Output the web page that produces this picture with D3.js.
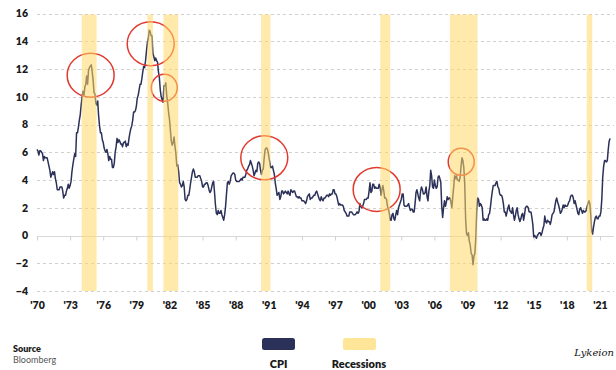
<!DOCTYPE html>
<html>
<head>
<meta charset="utf-8">
<script src="https://cdn.jsdelivr.net/npm/d3@7"></script>
<style>
  html, body { margin: 0; padding: 0; background: #fff; }
  svg { display: block; }
  text { font-family: Lato, "Open Sans", sans-serif; }
</style>
</head>
<body>
<svg id="chart" width="616" height="370"></svg>
<script>
// ---- Data (US CPI YoY %, monthly) ----
const startYear = 1970;
const cpi = [
  // 1970
  6.2, 6.1, 5.8, 6.1, 6.1, 6.0, 5.9, 5.4, 5.7, 5.6, 5.6, 5.6,
  // 1971
  5.3, 5.0, 4.7, 4.2, 4.4, 4.6, 4.4, 4.6, 4.1, 3.8, 3.3, 3.3,
  // 1972
  3.3, 3.5, 3.5, 3.5, 3.2, 2.7, 2.9, 2.9, 3.2, 3.4, 3.7, 3.4,
  // 1973
  3.6, 3.9, 4.6, 5.1, 5.5, 5.9, 5.7, 7.4, 7.4, 7.8, 8.3, 8.7,
  // 1974
  9.4, 10.0, 10.4, 10.1, 10.7, 10.9, 11.5, 10.9, 11.9, 12.1, 12.2, 12.3,
  // 1975
  11.8, 11.2, 10.3, 10.2, 9.5, 9.4, 9.7, 8.6, 7.9, 7.4, 7.4, 6.9,
  // 1976
  6.7, 6.3, 6.1, 6.0, 6.2, 5.9, 5.4, 5.7, 5.5, 5.5, 4.9, 4.9,
  // 1977
  5.2, 6.0, 6.4, 7.0, 6.7, 6.9, 6.8, 6.6, 6.6, 6.4, 6.7, 6.7,
  // 1978
  6.8, 6.4, 6.6, 6.5, 7.0, 7.4, 7.7, 7.9, 8.3, 8.9, 8.9, 9.0,
  // 1979
  9.3, 9.9, 10.1, 10.5, 10.9, 10.9, 11.3, 11.8, 12.2, 12.1, 12.6, 13.3,
  // 1980
  13.9, 14.2, 14.8, 14.7, 14.4, 14.4, 13.1, 12.9, 12.6, 12.8, 12.6, 12.5,
  // 1981
  11.8, 11.4, 10.5, 10.0, 9.8, 9.6, 10.8, 10.8, 11.0, 10.1, 9.6, 8.9,
  // 1982
  8.4, 7.6, 6.8, 6.5, 6.7, 7.1, 6.4, 5.9, 5.0, 5.1, 4.6, 3.8,
  // 1983
  3.7, 3.5, 3.6, 3.9, 3.5, 2.6, 2.5, 2.6, 2.9, 2.9, 3.3, 3.8,
  // 1984
  4.2, 4.6, 4.8, 4.6, 4.2, 4.2, 4.2, 4.3, 4.3, 4.3, 4.1, 3.9,
  // 1985
  3.5, 3.5, 3.7, 3.7, 3.8, 3.8, 3.6, 3.3, 3.1, 3.2, 3.5, 3.8,
  // 1986
  3.9, 3.1, 2.2, 1.6, 1.5, 1.8, 1.6, 1.6, 1.8, 1.5, 1.3, 1.1,
  // 1987
  1.5, 2.1, 3.0, 3.8, 3.9, 3.7, 3.9, 4.3, 4.4, 4.5, 4.5, 4.4,
  // 1988
  4.0, 3.9, 3.9, 3.9, 3.9, 4.0, 4.1, 4.0, 4.2, 4.2, 4.2, 4.4,
  // 1989
  4.7, 4.8, 5.0, 5.1, 5.4, 5.2, 5.0, 4.7, 4.3, 4.5, 4.7, 4.6,
  // 1990
  5.2, 5.3, 5.2, 4.7, 4.4, 4.7, 4.8, 5.6, 6.2, 6.3, 6.3, 6.1,
  // 1991
  5.7, 5.3, 4.9, 4.9, 5.0, 4.7, 4.4, 3.8, 3.4, 2.9, 3.0, 3.1,
  // 1992
  2.6, 2.8, 3.2, 3.2, 3.0, 3.1, 3.2, 3.1, 3.0, 3.2, 3.0, 2.9,
  // 1993
  3.3, 3.2, 3.1, 3.2, 3.2, 3.0, 2.8, 2.8, 2.7, 2.8, 2.7, 2.7,
  // 1994
  2.5, 2.5, 2.5, 2.4, 2.3, 2.5, 2.8, 2.9, 3.0, 2.6, 2.7, 2.7,
  // 1995
  2.8, 2.9, 2.9, 3.1, 3.2, 3.0, 2.8, 2.6, 2.5, 2.8, 2.6, 2.5,
  // 1996
  2.7, 2.7, 2.8, 2.9, 2.9, 2.8, 3.0, 2.9, 3.0, 3.0, 3.3, 3.3,
  // 1997
  3.0, 3.0, 2.8, 2.5, 2.2, 2.3, 2.2, 2.2, 2.2, 2.1, 1.8, 1.7,
  // 1998
  1.6, 1.4, 1.4, 1.4, 1.7, 1.7, 1.7, 1.6, 1.5, 1.5, 1.5, 1.6,
  // 1999
  1.7, 1.6, 1.7, 2.3, 2.1, 2.0, 2.1, 2.3, 2.6, 2.6, 2.6, 2.7,
  // 2000
  2.7, 3.2, 3.8, 3.1, 3.2, 3.7, 3.7, 3.4, 3.5, 3.4, 3.4, 3.4,
  // 2001
  3.7, 3.5, 2.9, 3.3, 3.6, 3.2, 2.7, 2.7, 2.6, 2.1, 1.9, 1.6,
  // 2002
  1.1, 1.1, 1.5, 1.6, 1.2, 1.1, 1.5, 1.8, 1.5, 2.0, 2.2, 2.4,
  // 2003
  2.6, 3.0, 3.0, 2.2, 2.1, 2.1, 2.1, 2.2, 2.3, 2.0, 1.8, 1.9,
  // 2004
  1.9, 1.7, 1.7, 2.3, 3.1, 3.3, 3.0, 2.7, 2.5, 3.2, 3.5, 3.3,
  // 2005
  3.0, 3.0, 3.1, 3.5, 2.8, 2.5, 3.2, 3.6, 4.7, 4.3, 3.5, 3.4,
  // 2006
  4.0, 3.6, 3.4, 3.5, 4.2, 4.3, 4.1, 3.8, 2.1, 1.3, 2.0, 2.5,
  // 2007
  2.1, 2.4, 2.8, 2.6, 2.7, 2.7, 2.4, 2.0, 2.8, 3.5, 4.3, 4.1,
  // 2008
  4.3, 4.0, 4.0, 3.9, 4.2, 5.0, 5.6, 5.4, 4.9, 3.7, 1.1, 0.1,
  // 2009
  0.0, 0.2, -0.4, -0.7, -1.3, -1.4, -2.1, -1.5, -1.3, -0.2, 1.8, 2.7,
  // 2010
  2.6, 2.1, 2.3, 2.2, 2.0, 1.1, 1.2, 1.1, 1.1, 1.2, 1.1, 1.5,
  // 2011
  1.6, 2.1, 2.7, 3.2, 3.6, 3.6, 3.6, 3.8, 3.9, 3.5, 3.4, 3.0,
  // 2012
  2.9, 2.9, 2.7, 2.3, 1.7, 1.7, 1.4, 1.7, 2.0, 2.2, 1.8, 1.7,
  // 2013
  1.6, 2.0, 1.5, 1.1, 1.4, 1.8, 2.0, 1.5, 1.2, 1.0, 1.2, 1.5,
  // 2014
  1.6, 1.1, 1.5, 2.0, 2.1, 2.1, 2.0, 1.7, 1.7, 1.7, 1.3, 0.8,
  // 2015
  -0.1, 0.0, -0.1, -0.2, 0.0, 0.1, 0.2, 0.2, 0.0, 0.2, 0.5, 0.7,
  // 2016
  1.4, 1.0, 0.9, 1.1, 1.0, 1.0, 0.8, 1.1, 1.5, 1.6, 1.7, 2.1,
  // 2017
  2.5, 2.7, 2.4, 2.2, 1.9, 1.6, 1.7, 1.9, 2.2, 2.0, 2.2, 2.1,
  // 2018
  2.1, 2.2, 2.4, 2.5, 2.8, 2.9, 2.9, 2.7, 2.3, 2.5, 2.2, 1.9,
  // 2019
  1.6, 1.5, 1.9, 2.0, 1.8, 1.6, 1.8, 1.7, 1.7, 1.8, 2.1, 2.3,
  // 2020
  2.5, 2.3, 1.5, 0.3, 0.1, 0.6, 1.0, 1.3, 1.4, 1.2, 1.2, 1.4,
  // 2021
  1.4, 1.7, 2.6, 4.2, 5.0, 5.4, 5.4, 5.3, 5.4, 6.2, 6.8, 7.0
];

// Recession periods as [start, end] in decimal years
const recessionStart = [1974.05, 1980.0, 1981.45, 1990.3, 2001.1, 2007.4, 2019.8];
const recessionEnd   = [1975.4, 1980.5, 1982.8, 1991.15, 2002.0, 2009.9, 2020.3];

// Highlight circles: centre in data units (decimal year, CPI %), size class
const circleYear  = [1974.86, 1980.30, 1981.53, 1990.59, 2000.77, 2008.43];
const circleValue = [11.55, 13.82, 10.65, 5.6, 3.32, 5.31];
const circleBig   = [true, true, false, true, true, false];

const yTicks = [-4, -2, 0, 2, 4, 6, 8, 10, 12, 14, 16];
const xTicks = [1970, 1973, 1976, 1979, 1982, 1985, 1988, 1991, 1994, 1997, 2000, 2003, 2006, 2009, 2012, 2015, 2018, 2021];

// ---- Chart ----
const svg = d3.select("#chart");
const navy = "#2b3158";
const bandColor = "#ffd966";

const x = d3.scaleLinear().domain([1970, 2022]).range([37, 611]);
const y = d3.scaleLinear().domain([-4, 16]).range([291, 13.5]);

// grid
const grid = svg.append("g");
grid.selectAll("line")
  .data(yTicks)
  .join("line")
  .attr("x1", x(1970)).attr("x2", 614)
  .attr("y1", d => Math.round(y(d)) + 0.5).attr("y2", d => Math.round(y(d)) + 0.5)
  .attr("stroke", d => d === 0 ? "#d9d9d9" : "#d0d0d0")
  .attr("stroke-width", 1)
  .attr("stroke-dasharray", d => d === 0 ? null : "3,3");

// ticks at zero line
const tickAxis = d3.axisBottom(x).tickValues(xTicks).tickSize(4).tickFormat("");
svg.append("g")
  .attr("transform", `translate(0,${Math.round(y(0)) + 0.5})`)
  .call(tickAxis)
  .call(g => g.select(".domain").remove())
  .call(g => g.selectAll(".tick line").attr("stroke", "#d0d0d0"));

// x labels
const xAxis = d3.axisBottom(x).tickValues(xTicks).tickSize(0)
  .tickFormat(d => "'" + String(d).slice(2));
svg.append("g")
  .attr("transform", `translate(0,${y(-4) + 8})`)
  .call(xAxis)
  .call(g => g.select(".domain").remove())
  .call(g => g.selectAll("text")
    .attr("fill", "#1a1a1a")
    .style("font-size", "10.5px")
    .style("font-weight", "800")
    .style("font-family", "Lato, sans-serif"));

// y labels
const yAxis = d3.axisLeft(y).tickValues(yTicks).tickSize(0);
svg.append("g")
  .attr("transform", `translate(28,0)`)
  .call(yAxis)
  .call(g => g.select(".domain").remove())
  .call(g => g.selectAll("text")
    .attr("x", 0)
    .attr("fill", "#1a1a1a")
    .style("font-size", "10.5px")
    .style("font-weight", "800")
    .style("font-family", "Lato, sans-serif"));

// CPI line
const pts = cpi.map((v, i) => ({ t: startYear + i / 12, v }));
const line = d3.line().x(d => x(d.t)).y(d => y(d.v)).curve(d3.curveLinear);
svg.append("path")
  .datum(pts)
  .attr("fill", "none")
  .attr("stroke", navy)
  .attr("stroke-width", 1.5)
  .attr("stroke-linejoin", "round")
  .attr("d", line);

// highlight circles
svg.append("g").selectAll("ellipse")
  .data(circleYear.map((t, i) => ({ t, v: circleValue[i], big: circleBig[i] })))
  .join("ellipse")
  .attr("cx", d => x(d.t))
  .attr("cy", d => y(d.v))
  .attr("rx", d => d.big ? 23.5 : 13)
  .attr("ry", d => d.big ? 22 : 13.5)
  .attr("fill", "none")
  .attr("stroke", "#e2392f")
  .attr("stroke-width", 1.5);

// recession bands (on top, translucent)
svg.append("g").selectAll("rect")
  .data(recessionStart.map((s, i) => ({ s, e: recessionEnd[i] })))
  .join("rect")
  .attr("x", d => x(d.s))
  .attr("width", d => x(d.e) - x(d.s))
  .attr("y", y(16) + 1)
  .attr("height", y(-4) - y(16) - 1)
  .attr("fill", bandColor)
  .attr("opacity", 0.55);

// legend
const legend = svg.append("g");
legend.append("rect").attr("x", 262).attr("y", 338).attr("width", 33).attr("height", 12)
  .attr("rx", 2.5).attr("fill", navy);
legend.append("rect").attr("x", 343).attr("y", 338).attr("width", 33).attr("height", 12)
  .attr("rx", 2.5).attr("fill", "#fee597");
legend.append("text").attr("x", 278.5).attr("y", 368).attr("text-anchor", "middle")
  .style("font-size", "11px").style("font-weight", "800").attr("fill", "#1a1a1a").text("CPI");
legend.append("text").attr("x", 359).attr("y", 368).attr("text-anchor", "middle")
  .style("font-size", "11px").style("font-weight", "800").attr("fill", "#1a1a1a").text("Recessions");

// source
svg.append("text").attr("x", 13).attr("y", 352)
  .style("font-size", "9px").style("font-weight", "800").attr("fill", "#1a1a1a").text("Source");
svg.append("text").attr("x", 13).attr("y", 363)
  .style("font-size", "9px").style("font-weight", "400").attr("fill", "#555").text("Bloomberg");

// signature
svg.append("text").attr("x", 614).attr("y", 356)
  .attr("text-anchor", "end")
  .style("font-family", "'DejaVu Serif', serif")
  .style("font-style", "italic")
  .style("font-size", "10px")
  .attr("fill", "#111")
  .text("Lykeion");
</script>
</body>
</html>
